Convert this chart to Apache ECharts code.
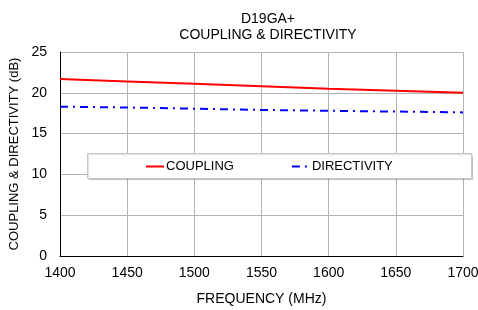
<!DOCTYPE html>
<html><head><meta charset="utf-8">
<script src="https://cdn.jsdelivr.net/npm/echarts@6/dist/echarts.min.js"></script>
<style>html,body{margin:0;padding:0;background:#fff}#c{width:478px;height:310px}</style>
</head><body><div id="c"></div>
<script>
const titleLines = ["D19GA+", "COUPLING & DIRECTIVITY"];
const xName = "FREQUENCY (MHz)";
const yName = "COUPLING & DIRECTIVITY (dB)";
const seriesNames = ["COUPLING", "DIRECTIVITY"];
const freq = [1400, 1450, 1500, 1550, 1600, 1650, 1700];
const coupling = [21.7, 21.4, 21.1, 20.8, 20.5, 20.25, 20.0];
const directivity = [18.3, 18.2, 18.05, 17.9, 17.8, 17.7, 17.6];

const chart = echarts.init(document.getElementById('c'));
const font = 'Liberation Sans, Arial, sans-serif';
chart.setOption({
  animation: false,
  textStyle: {fontFamily: font},
  title: {
    text: titleLines.join('\n'), left: 263, top: 6, textAlign: 'center',
    textStyle: {fontSize: 14, fontWeight: 'normal', color: '#000', lineHeight: 16, fontFamily: font}
  },
  grid: {left: 60, right: 15, top: 52, bottom: 54, outerBoundsMode: 'none', containLabel: false},
  graphic: [{
    type: 'rect', left: 87, top: 153, z: 5,
    shape: {width: 384, height: 25},
    style: {fill: '#fff', stroke: '#c8c8c8', lineWidth: 1, shadowColor: 'rgba(0,0,0,0.15)', shadowOffsetX: 1, shadowOffsetY: 1, shadowBlur: 1}
  }],
  legend: {
    left: 140, top: 155, z: 10, itemGap: 57, itemWidth: 18, itemHeight: 10,
    itemStyle: {opacity: 0, borderWidth: 0},
    textStyle: {fontSize: 13, color: '#000', fontFamily: font, padding: [0,0,0,-3]},
    data: seriesNames
  },
  xAxis: {
    type: 'value', min: 1400, max: 1700, interval: 50,
    name: xName, nameLocation: 'middle', nameGap: 36,
    nameTextStyle: {fontSize: 14, color: '#000', fontFamily: font},
    axisLine: {onZero: false, lineStyle: {color: '#000', width: 1}},
    axisTick: {show: false},
    axisLabel: {fontSize: 14, color: '#000', margin: 10, fontFamily: font, formatter: v => String(v)},
    splitLine: {show: true, lineStyle: {color: '#b4b4b4', width: 1}}
  },
  yAxis: {
    type: 'value', min: 0, max: 25, interval: 5,
    name: yName, nameLocation: 'middle', nameGap: 28,
    nameTextStyle: {fontSize: 13, color: '#000', fontFamily: font},
    axisLine: {show: true, lineStyle: {color: '#000', width: 1}},
    axisTick: {show: false},
    axisLabel: {fontSize: 14, color: '#000', margin: 13, fontFamily: font},
    splitLine: {show: true, lineStyle: {color: '#b4b4b4', width: 1}}
  },
  series: [
    {name: seriesNames[0], type: 'line', showSymbol: false, symbol: 'none',
     data: freq.map((f, i) => [f, coupling[i]]),
     lineStyle: {color: '#ff0000', width: 2}, itemStyle: {color: '#ff0000'}},
    {name: seriesNames[1], type: 'line', showSymbol: false, symbol: 'none',
     data: freq.map((f, i) => [f, directivity[i]]),
     lineStyle: {color: '#0000ff', width: 2, type: [8, 5, 2, 5]}, itemStyle: {color: '#0000ff'}}
  ]
});
</script></body></html>
